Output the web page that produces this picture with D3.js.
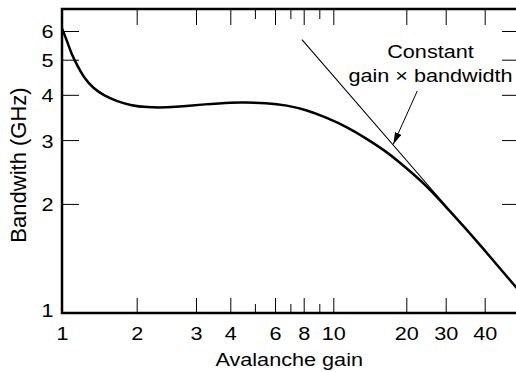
<!DOCTYPE html>
<html>
<head>
<meta charset="utf-8">
<script src="https://cdn.jsdelivr.net/npm/d3@7"></script>
<style>
  body { margin: 0; background: #fff; }
  svg { display: block; }
  text { font-family: "Liberation Sans", Arial, Helvetica, sans-serif; fill: #000; }
</style>
</head>
<body>
<svg id="chart" width="516" height="372"></svg>
<script>
// Bandwidth of the photodiode against avalanche gain
const gain      = [1, 1.045, 1.09, 1.15, 1.22, 1.34, 1.47, 1.66, 1.88, 2.14, 2.46, 2.8, 3.28, 3.57, 4.37, 5.57, 6.75, 8.2, 9.5, 11.4, 13.7, 16.6, 18.8, 20.8, 25.5, 31, 35.9, 42, 50.2, 54];
const bandwidth = [6.1, 5.66, 5.2, 4.83, 4.48, 4.16, 3.99, 3.84, 3.745, 3.69, 3.69, 3.72, 3.77, 3.785, 3.815, 3.80, 3.745, 3.63, 3.46, 3.26, 3.03, 2.785, 2.60, 2.46, 2.20, 1.905, 1.658, 1.429, 1.233, 1.162];

// Constant gain x bandwidth asymptote
const gbGain      = [7.86, 32.1];
const gbBandwidth = [5.68, 1.849];

// Pointer from the note to the asymptote (tail, tip)
const arrowGain      = [22.4, 17.68];
const arrowBandwidth = [4.10, 2.92];

const xMajorTicks = [1, 2, 3, 4, 6, 8, 10, 20, 30, 40];
const xMinorTicks = [5, 7, 9];
const yTicks      = [1, 2, 3, 4, 5, 6];

const xTitle = "Avalanche gain";
const yTitle = "Bandwith (GHz)";
const noteLines = ["Constant", "gain \u00d7 bandwidth"];

// ---- layout ----
const plotLeft = 62, plotRight = 518, plotTop = 9, plotBottom = 313;
const fontSize = 18.5, stretch = 1.17;
// gain axis is drawn as a piecewise log axis through its labelled ticks
const xStops  = [1, 2, 3, 4, 6, 8, 10, 20, 30, 40, 54];
const xPixels = [plotLeft, 136.7, 196, 230.3, 275, 303.7, 333.3, 406.3, 445.7, 484.7, plotRight];

const svg = d3.select("#chart");

const x = d3.scaleLog().domain(xStops).range(xPixels);
const y = d3.scaleLog().domain([1, 6.9]).range([plotBottom, plotTop]);

svg.append("defs").append("clipPath").attr("id", "plot")
  .append("rect").attr("x", plotLeft).attr("y", plotTop)
  .attr("width", plotRight - plotLeft).attr("height", plotBottom - plotTop);

svg.append("marker").attr("id", "head")
  .attr("viewBox", "0 0 12 7").attr("refX", 12).attr("refY", 3.5)
  .attr("markerWidth", 12).attr("markerHeight", 7)
  .attr("markerUnits", "userSpaceOnUse").attr("orient", "auto")
  .append("path").attr("d", "M0,0L12,3.5L0,7Z").attr("fill", "#000");

function styleTicks(g) {
  g.select(".domain").remove();
  g.selectAll(".tick line").attr("stroke", "#000").attr("stroke-width", 1);
  g.attr("font-family", null).attr("font-size", null);
  g.selectAll("text").style("font-size", fontSize + "px");
}

// bottom axis
svg.append("g").attr("transform", `translate(0,${plotBottom})`)
  .call(d3.axisBottom(x).tickValues(xMajorTicks).tickSize(-15).tickPadding(14).tickFormat(d3.format("d")))
  .call(styleTicks)
  .call(g => g.selectAll("text").attr("transform", `scale(${stretch},1)`));
svg.append("g").attr("transform", `translate(0,${plotBottom})`)
  .call(d3.axisBottom(x).tickValues(xMinorTicks).tickSize(-9).tickFormat(""))
  .call(styleTicks);

// top axis
svg.append("g").attr("transform", `translate(0,${plotTop})`)
  .call(d3.axisTop(x).tickValues(xMajorTicks).tickSize(-16).tickFormat(""))
  .call(styleTicks);
svg.append("g").attr("transform", `translate(0,${plotTop})`)
  .call(d3.axisTop(x).tickValues(xMinorTicks).tickSize(-10).tickFormat(""))
  .call(styleTicks);

// left axis
svg.append("g").attr("transform", `translate(${plotLeft},0)`)
  .call(d3.axisLeft(y).tickValues(yTicks).tickSize(-17).tickFormat(d3.format("d")))
  .call(styleTicks)
  .call(g => g.selectAll("text")
    .attr("x", 0).attr("dy", null)
    .attr("transform", d => `translate(-8.5,${d === 1 ? 3 : 7}) scale(${stretch},1)`));

// right axis
svg.append("g").attr("transform", `translate(${plotRight},0)`)
  .call(d3.axisRight(y).tickValues(yTicks.filter(v => v > 1)).tickSize(-16).tickFormat(""))
  .call(styleTicks);

// frame
svg.append("path")
  .attr("d", `M${plotLeft},${plotTop}H${plotRight}V${plotBottom}H${plotLeft}Z`)
  .attr("fill", "none").attr("stroke", "#000").attr("stroke-width", 2.5);

const plot = svg.append("g").attr("clip-path", "url(#plot)");

// asymptote
plot.append("path")
  .datum(d3.zip(gbGain, gbBandwidth))
  .attr("d", d3.line().x(d => x(d[0])).y(d => y(d[1])))
  .attr("fill", "none").attr("stroke", "#000").attr("stroke-width", 1.1);

// measured curve
plot.append("path")
  .datum(d3.zip(gain, bandwidth))
  .attr("d", d3.line().x(d => x(d[0])).y(d => y(d[1])).curve(d3.curveBasis))
  .attr("fill", "none").attr("stroke", "#000").attr("stroke-width", 2.5)
  .attr("stroke-linejoin", "round");

// arrow from the note
svg.append("path")
  .datum(d3.zip(arrowGain, arrowBandwidth))
  .attr("d", d3.line().x(d => x(d[0])).y(d => y(d[1])))
  .attr("fill", "none").attr("stroke", "#000").attr("stroke-width", 1)
  .attr("marker-end", "url(#head)");

function stretchedText(px, py, str, anchor) {
  return svg.append("text")
    .attr("transform", `translate(${px},${py}) scale(${stretch},1)`)
    .attr("text-anchor", anchor)
    .style("font-size", fontSize + "px")
    .text(str);
}

stretchedText(430.5, 58.3, noteLines[0], "middle");
stretchedText(430.5, 81.7, noteLines[1], "middle");

// axis titles
stretchedText(289.2, 366, xTitle, "middle");
svg.append("text")
  .attr("transform", "translate(26,165) rotate(-90)")
  .attr("text-anchor", "middle")
  .style("font-size", "22px")
  .text(yTitle);
</script>
</body>
</html>
